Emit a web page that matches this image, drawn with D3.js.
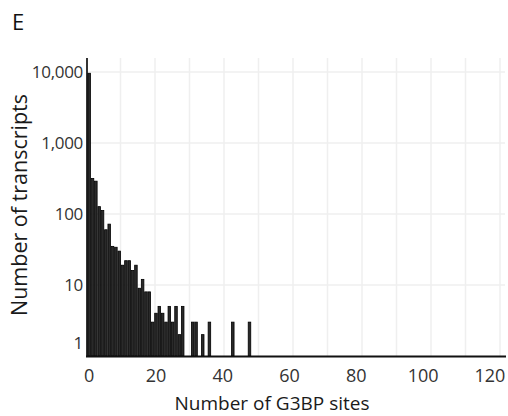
<!DOCTYPE html>
<html>
<head>
<meta charset="utf-8">
<script src="https://cdn.jsdelivr.net/npm/d3@7"></script>
<style>
  html, body { margin: 0; padding: 0; background: #fff; }
  svg { display: block; font-family: "Open Sans", "Noto Sans", sans-serif; }
</style>
</head>
<body>
<svg id="chart" width="508" height="416"></svg>
<script>
// ---- data ----
const sites = [0,1,2,3,4,5,6,7,8,9,10,11,12,13,14,15,16,17,18,19,20,21,22,23,24,25,26,27,28,31,32,34,36,43,48];
const transcripts = [9600,316,290,127,112,60,72,35,34,30,19,22,22,16,19,9,12,8,8,3,4,5,4,3,5,3,5,2,5,3,3,2,3,3,3];
const xTicks = [0,20,40,60,80,100,120];
const yTicks = [1,10,100,1000,10000];
const yTickLabels = ["1","10","100","1,000","10,000"];
const gridXValues = [10,20,30,40,50,60,70,80,90,100,110,120];
const panelLabel = "E";
const xTitle = "Number of G3BP sites";
const yTitle = "Number of transcripts";

const svg = d3.select("#chart");

const x = d3.scaleLinear().domain([0, 125]).range([87.5, 87.5 + 3.34 * 125]);
const y = d3.scaleLog().domain([1, 10000]).range([356, 72]);
const gridX = d3.scaleLinear().domain([0, 120]).range([86, 500]);

// gridlines
const grid = svg.append("g");
grid.selectAll("line.v").data(gridXValues).join("line")
  .attr("x1", d => gridX(d)).attr("x2", d => gridX(d))
  .attr("y1", 58).attr("y2", 356)
  .attr("stroke", "#efefef").attr("stroke-width", 1.5);
grid.selectAll("line.h").data(yTicks.slice(1)).join("line")
  .attr("x1", 88).attr("x2", 505)
  .attr("y1", d => y(d)).attr("y2", d => y(d))
  .attr("stroke", "#efefef").attr("stroke-width", 1.5);

// bars
svg.append("g").selectAll("rect").data(sites.map((s, i) => ({s, v: transcripts[i]}))).join("rect")
  .attr("x", d => x(d.s) + 0.4)
  .attr("width", d => x(d.s + 1) - x(d.s) - 0.8)
  .attr("y", d => y(d.v))
  .attr("height", d => y(1) - y(d.v))
  .attr("fill", "#2a2a2a")
  .attr("stroke", "#000")
  .attr("stroke-width", 0.8);

// axes lines
svg.append("line").attr("x1", 87).attr("x2", 87).attr("y1", 58).attr("y2", 357)
  .attr("stroke", "#000").attr("stroke-width", 1.6);
svg.append("line").attr("x1", 86).attr("x2", 506).attr("y1", 356.5).attr("y2", 356.5)
  .attr("stroke", "#111").attr("stroke-width", 2.2);

// y tick labels
svg.append("g").selectAll("text").data(yTicks).join("text")
  .attr("x", 83)
  .attr("y", d => y(d))
  .attr("dy", d => d === 1 ? "-7" : "0.36em")
  .attr("text-anchor", "end")
  .attr("font-size", 17)
  .attr("letter-spacing", "-0.3")
  .attr("fill", "#333")
  .text((d, i) => yTickLabels[i]);

// x tick labels
svg.append("g").selectAll("text").data(xTicks).join("text")
  .attr("x", d => x(d + 0.5))
  .attr("y", 382)
  .attr("text-anchor", "middle")
  .attr("font-size", 18)
  .attr("fill", "#333")
  .text(d => d);

// titles
svg.append("text").attr("x", 272).attr("y", 410).attr("text-anchor", "middle")
  .attr("font-size", 19).attr("fill", "#1a1a1a").text(xTitle);
svg.append("text").attr("transform", "translate(27,205) rotate(-90)")
  .attr("text-anchor", "middle").attr("font-size", 21.5).attr("fill", "#1a1a1a").text(yTitle);
svg.append("text").attr("x", 12).attr("y", 30)
  .attr("font-size", 22).attr("fill", "#111").text(panelLabel);
</script>
</body>
</html>
